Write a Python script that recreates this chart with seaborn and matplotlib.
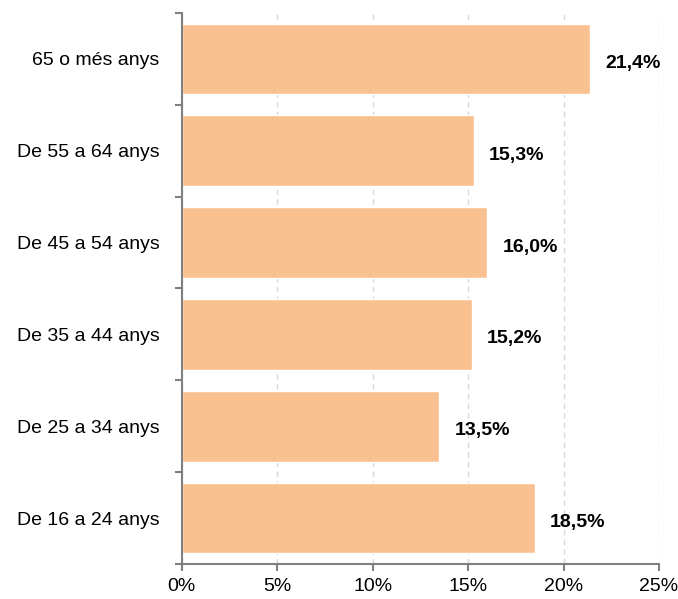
import matplotlib
matplotlib.use("Agg")
import matplotlib.pyplot as plt
from matplotlib.ticker import FixedLocator, PercentFormatter
import seaborn as sns
import pandas as pd

# Chart data
age_groups = ["65 o més anys", "De 55 a 64 anys", "De 45 a 54 anys",
              "De 35 a 44 anys", "De 25 a 34 anys", "De 16 a 24 anys"]
shares = [21.4, 15.3, 16.0, 15.2, 13.5, 18.5]
x_ticks = [0, 5, 10, 15, 20, 25]

df = pd.DataFrame({"grup": age_groups, "pct": shares})

sns.set_theme(style="white")
plt.rcParams["font.family"] = ["Liberation Sans", "DejaVu Sans"]

fig = plt.figure(figsize=(6.78, 5.99), dpi=100)
ax = fig.add_axes([0.268, 0.0584, 0.704, 0.92])

sns.barplot(data=df, x="pct", y="grup", orient="h", color="#F9C18F",
            saturation=1, width=0.77, ax=ax)

# bar labels
for i, v in enumerate(shares):
    ax.text(v + 0.8, i + 0.05, f"{v:.1f}%".replace(".", ","), va="center", ha="left",
            fontsize=14, fontweight="bold", color="black")

ax.set_xlim(0, 25)
ax.set_ylim(len(age_groups) - 0.5, -0.5)
ax.set_xticks(x_ticks)
ax.xaxis.set_major_formatter(PercentFormatter(decimals=0))
ax.set_xlabel("")
ax.set_ylabel("")

ax.grid(axis="x", color="#D9D9D9", linestyle=(0, (4, 3)), linewidth=1)
ax.set_axisbelow(True)

for side in ["top", "right"]:
    ax.spines[side].set_visible(False)
for side in ["left", "bottom"]:
    ax.spines[side].set_color("#808080")
    ax.spines[side].set_linewidth(1.5)

ax.yaxis.set_minor_locator(FixedLocator([i - 0.5 for i in range(len(age_groups) + 1)]))
ax.tick_params(axis="y", which="major", length=0, labelsize=14, pad=16, colors="black")
ax.tick_params(axis="y", which="minor", length=5, width=1.5, color="#808080", left=True, direction="out")
ax.tick_params(axis="x", which="major", length=5, width=1.5, color="#808080", bottom=True,
               direction="out", labelsize=14, labelcolor="black", pad=5)

plt.savefig("out.png", dpi=100)
